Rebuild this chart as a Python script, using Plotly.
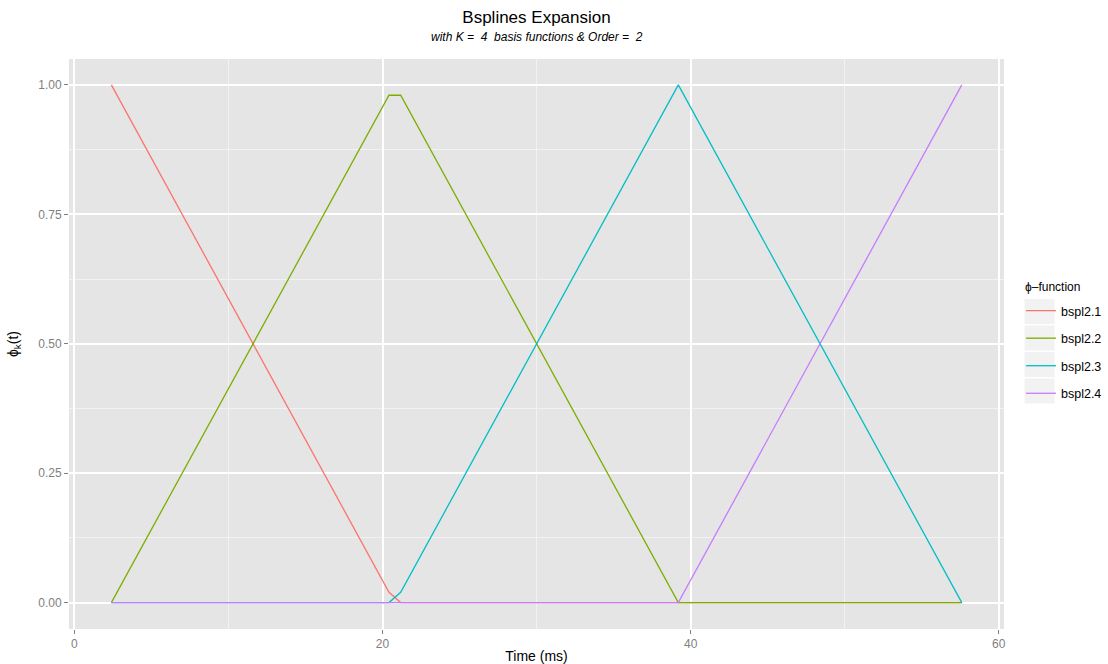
import plotly.graph_objects as go

# ---- data ----
time_ms = [2.4, 20.42, 21.18, 39.2, 57.6]
bspl2_1 = [1.0, 0.02, 0.0, 0.0, 0.0]
bspl2_2 = [0.0, 0.98, 0.98, 0.0, 0.0]
bspl2_3 = [0.0, 0.0, 0.02, 1.0, 0.0]
bspl2_4 = [0.0, 0.0, 0.0, 0.0, 1.0]
series_names = ["bspl2.1", "bspl2.2", "bspl2.3", "bspl2.4"]
series_values = [bspl2_1, bspl2_2, bspl2_3, bspl2_4]
series_colors = ["#F8766D", "#7CAE00", "#00BFC4", "#C77CFF"]
x_ticks = [0, 20, 40, 60]
y_ticks = [0.0, 0.25, 0.5, 0.75, 1.0]
y_tick_labels = ["0.00", "0.25", "0.50", "0.75", "1.00"]

FONT = "Liberation Sans, Arial, Helvetica, sans-serif"
W, H = 1108, 664
L, R, T, B = 69, 104, 59, 35
PW, PH = W - L - R, H - T - B

fig = go.Figure()
for name, vals, col in zip(series_names, series_values, series_colors):
    fig.add_trace(go.Scatter(x=time_ms, y=vals, mode="lines", name=name,
                             legendgroup=name,
                             line=dict(color=col, width=1.3)))

def px2paper_x(px):
    return (px - L) / PW

def px2paper_y(py):
    return (H - B - py) / PH

# grey legend key boxes
shapes = []
box_tops = [299, 325.5, 352, 378.5]
for top in box_tops:
    shapes.append(dict(type="rect", xref="paper", yref="paper",
                       x0=px2paper_x(1024.5), x1=px2paper_x(1054.5),
                       y0=px2paper_y(top + 25), y1=px2paper_y(top),
                       fillcolor="#F2F2F2", line=dict(width=0), layer="below"))

annotations = [
    dict(text="<i>with K =\u00a0 4\u00a0 basis functions &amp; Order =\u00a0 2</i>",
         xref="paper", yref="paper", x=0.5, y=px2paper_y(37),
         xanchor="center", yanchor="middle", showarrow=False,
         font=dict(size=12, color="black", family=FONT)),
    dict(text="\u03d5\u2013function",
         xref="paper", yref="paper", x=px2paper_x(1023), y=px2paper_y(287),
         xanchor="left", yanchor="middle", showarrow=False,
         font=dict(size=12, color="black", family=FONT)),
]

fig.update_layout(
    width=W, height=H,
    margin=dict(l=L, r=R, t=T, b=B, pad=0, autoexpand=False),
    paper_bgcolor="white",
    plot_bgcolor="#E5E5E5",
    font=dict(family=FONT, color="black"),
    title=dict(text="Bsplines Expansion",
               x=0.5, xref="paper", xanchor="center",
               y=1 - 17 / H, yref="container", yanchor="middle",
               font=dict(size=17, color="black", family=FONT)),
    xaxis=dict(range=[-0.35, 60.34], tickvals=x_ticks, ticktext=[str(v) for v in x_ticks],
               showgrid=True, gridcolor="white", gridwidth=1.6,
               minor=dict(dtick=10, tick0=0, showgrid=True, gridcolor="#F2F2F2", gridwidth=0.8),
               zeroline=False, showline=False, automargin=False,
               ticks="outside", ticklen=4, tickcolor="#7F7F7F", tickwidth=1,
               tickfont=dict(size=12, color="#7F7F7F", family=FONT),
               title=dict(text="Time (ms)", font=dict(size=14, color="black", family=FONT),
                          standoff=0)),
    yaxis=dict(range=[-0.051, 1.050], tickvals=y_ticks, ticktext=y_tick_labels,
               showgrid=True, gridcolor="white", gridwidth=1.6,
               minor=dict(dtick=0.125, tick0=0, showgrid=True, gridcolor="#F2F2F2", gridwidth=0.8),
               zeroline=False, showline=False, automargin=False,
               ticks="outside", ticklen=4, tickcolor="#7F7F7F", tickwidth=1,
               tickfont=dict(size=12, color="#7F7F7F", family=FONT),
               title=dict(text="\u03d5<sub>k</sub>(t)", font=dict(size=14, color="black", family=FONT),
                          standoff=16)),
    legend=dict(x=px2paper_x(1021), xanchor="left",
                y=px2paper_y(296), yanchor="top",
                bgcolor="rgba(0,0,0,0)", borderwidth=0,
                tracegroupgap=8.3, traceorder="grouped",
                font=dict(size=12.5, color="black", family=FONT),
                itemwidth=30),
    shapes=shapes,
    annotations=annotations,
    showlegend=True,
)

fig.write_html("out.html")
